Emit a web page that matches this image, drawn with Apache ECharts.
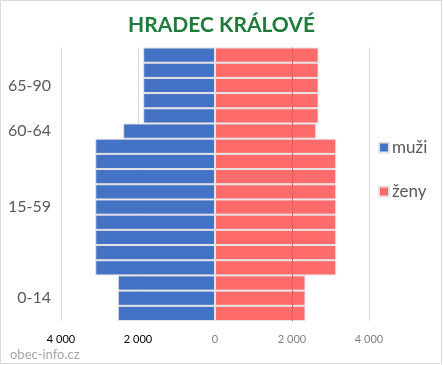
<!DOCTYPE html>
<html>
<head>
<meta charset="utf-8">
<script src="https://cdn.jsdelivr.net/npm/echarts@6/dist/echarts.min.js"></script>
<style>
  html, body { margin: 0; padding: 0; background: #fff; }
  #chart { width: 443px; height: 365px; }
</style>
</head>
<body>
<div id="chart"></div>
<script>
// 5-year age groups, bottom to top
const categories = ['0-4','5-9','10-14','15-19','20-24','25-29','30-34','35-39','40-44','45-49','50-54','55-59','60-64','65-69','70-74','75-79','80-84','85-89'];
// Tick labels shown on the vertical axis (only group centres)
const yTickLabels = ['','0-14','','','','','','15-59','','','','','60-64','','','65-90','',''];
// Men (muži), plotted to the left
const muzi = [2525,2525,2525,3110,3110,3110,3110,3110,3110,3110,3110,3110,2385,1865,1865,1865,1865,1865];
// Women (ženy), plotted to the right
const zeny = [2350,2350,2350,3150,3150,3150,3150,3150,3150,3150,3150,3150,2630,2690,2690,2690,2690,2690];
const xTicks = [-4000,-2000,0,2000,4000];

const chart = echarts.init(document.getElementById('chart'), null, {renderer: 'canvas'});

function fmt(v) {
  const a = Math.abs(v);
  return a >= 1000 ? Math.floor(a/1000) + ' ' + String(a % 1000).padStart(3,'0') : String(a);
}

chart.setOption({
  animation: false,
  backgroundColor: '#fff',
  title: {
    text: 'HRADEC KRÁLOVÉ',
    left: 'center',
    top: 10,
    textStyle: { fontFamily: 'Lato', fontWeight: 'bold', fontSize: 21, color: '#1E7B3A' }
  },
  legend: {
    orient: 'vertical',
    left: 373,
    top: 134,
    itemWidth: 10,
    itemHeight: 10,
    itemGap: 27,
    icon: 'rect',
    textStyle: { fontFamily: 'Lato', fontSize: 17, color: '#595959', padding: [0,0,0,-2] },
    data: ['muži','ženy']
  },
  graphic: [
    { type: 'rect', shape: { x: 0.5, y: 0.5, width: 441, height: 363 }, style: { fill: 'none', stroke: '#d9d9d9', lineWidth: 1 }, silent: true, z: 100 },
    { type: 'text', left: 10, top: 348, style: { text: 'obec-info.cz', fontFamily: 'Lato', fontSize: 13, fill: '#a6a6a6' } }
  ],
  grid: { left: 61, right: 74, top: 47.5, bottom: 44, containLabel: false },
  xAxis: {
    type: 'value',
    min: xTicks[0],
    max: xTicks[xTicks.length-1],
    interval: 2000,
    axisLine: { show: false },
    axisTick: { show: false },
    splitLine: { show: true, lineStyle: { color: '#d9d9d9', width: 1 } },
    axisLabel: {
      margin: 13,
      fontFamily: 'Lato',
      fontSize: 11,
      formatter: function (v) { return v < 0 ? '{n|' + fmt(v) + '}' : '{p|' + fmt(v) + '}'; },
      rich: {
        n: { color: '#000', fontFamily: 'Lato', fontSize: 11 },
        p: { color: '#7f7f7f', fontFamily: 'Lato', fontSize: 11 }
      }
    }
  },
  yAxis: {
    type: 'category',
    data: categories,
    axisLine: { show: false },
    axisTick: { show: false },
    axisLabel: {
      interval: 0,
      margin: 10,
      fontFamily: 'Lato',
      fontSize: 16,
      color: '#595959',
      formatter: function (v, i) { return yTickLabels[i]; }
    }
  },
  series: [
    {
      name: 'muži',
      type: 'bar',
      data: muzi.map(v => -v),
      barGap: '-100%',
      barCategoryGap: '0%',
      itemStyle: { color: '#4472C4', borderColor: '#e4e4e4', borderWidth: 1 }
    },
    {
      name: 'ženy',
      type: 'bar',
      data: zeny,
      barGap: '-100%',
      barCategoryGap: '0%',
      itemStyle: { color: '#FF6B6B', borderColor: '#e4e4e4', borderWidth: 1 },
      markLine: {
        silent: true,
        symbol: 'none',
        label: { show: false },
        lineStyle: { color: '#E05F5F', width: 1, type: 'solid' },
        data: [{ xAxis: xTicks[3] }]
      }
    }
  ]
});
</script>
</body>
</html>
